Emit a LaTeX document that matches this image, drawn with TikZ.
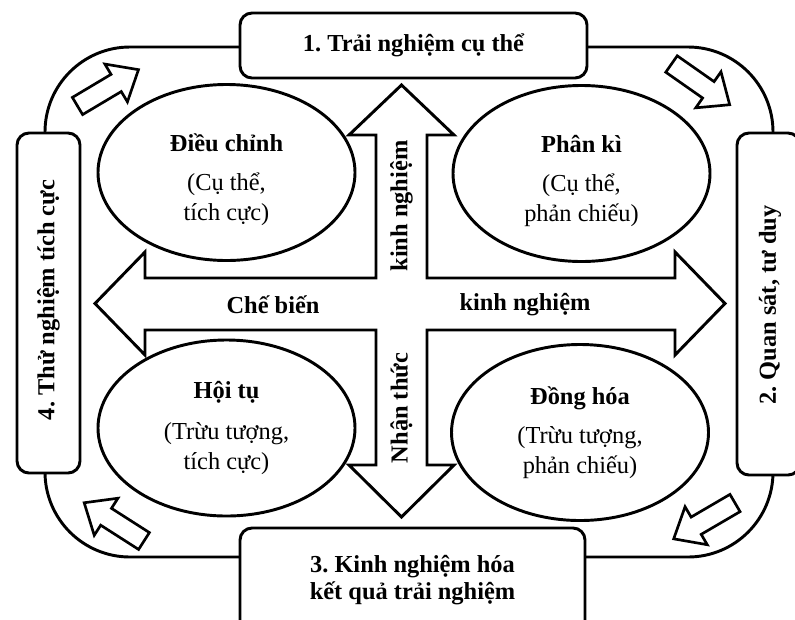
\documentclass[tikz,border=0pt]{standalone}
\usepackage{fontspec}
\setmainfont{Liberation Serif}
\usetikzlibrary{shapes.geometric}
\frenchspacing
\begin{document}
\begin{tikzpicture}[x=0.75pt,y=-0.75pt,
  line width=2.2pt, line join=miter,
  txt/.style={font=\fontsize{18.3}{22.5}\selectfont, align=center, inner sep=0pt},
  btxt/.style={txt, font=\fontsize{18.3}{20.5}\selectfont\bfseries},
  box/.style={draw, fill=white, rounded corners=9pt, btxt},
  ell/.style={draw, fill=white, ellipse, inner sep=0pt, txt,
              minimum width=192.75pt, minimum height=132pt},
  hollowarrow/.pic={\draw[fill=white, line width=2pt]
     (0,-10) -- (45,-10) -- (45,-22) -- (71,0) -- (45,22) -- (45,10) -- (0,10) -- cycle;}
]
\useasboundingbox (0,0) rectangle (795,619);

% outer loop
\draw[rounded corners=63.75pt] (45,47) rectangle (773,557);

% stage boxes
\node[box, minimum width=260.25pt, minimum height=48.75pt] (b1) at (413.5,45.5) {1. Trải nghiệm cụ thể};
\node[box, minimum width=47.25pt, minimum height=255pt] (b4) at (48.5,303) {};
\node[btxt, rotate=90] (t4) at (48.5,300) {4. Thử nghiệm tích cực};
\node[box, minimum width=47.25pt, minimum height=256.5pt] (b2) at (768.5,304) {};
\node[btxt, rotate=90] (t2) at (770,305) {2. Quan sát, tư duy};
\node[box, minimum width=258.75pt, minimum height=78pt] (b3) at (412.5,580) {3. Kinh nghiệm hóa\\kết quả trải nghiệm};

% central cross of arrows
\draw[fill=white] (401.5,85) -- (454,135) -- (427,135) -- (427,278) -- (675,278) -- (675,252)
  -- (725,303.5) -- (675,355) -- (675,330) -- (427,330) -- (427,465) -- (454,465)
  -- (401.5,517) -- (349,465) -- (376,465) -- (376,330) -- (145,330) -- (145,355)
  -- (95,303.5) -- (145,252) -- (145,278) -- (376,278) -- (376,135) -- (349,135) -- cycle;
\node[btxt] (cb) at (273,305) {Chế biến};
\node[btxt] (kn) at (525,305) {kinh nghiệm};
\node[btxt, rotate=90] (knv) at (401.5,206) {kinh nghiệm};
\node[btxt, rotate=90] (nt) at (401.5,408) {Nhận thức};

% learning styles
\node[ell] (e1) at (226.5,172.5) {\rule{0pt}{24pt}\textbf{Điều chỉnh}\\[7pt](Cụ thể,\\tích cực)};
\node[ell] (e2) at (581.5,173.5) {\rule{0pt}{24pt}\textbf{Phân kì}\\[7pt](Cụ thể,\\phản chiếu)};
\node[ell] (e3) at (226.5,428) {\textbf{Hội tụ}\\[8pt](Trừu tượng,\\tích cực)};
\node[ell] (e4) at (580,432.5) {\textbf{Đồng hóa}\\[7pt](Trừu tượng,\\phản chiếu)};

% corner arrows
\pic[rotate=30.8] at (77.5,106) {hollowarrow};
\pic[rotate=-35] at (671.5,64) {hollowarrow};
\pic[rotate=-149.7] at (735,503) {hollowarrow};
\pic[rotate=147.4] at (144,541) {hollowarrow};
\end{tikzpicture}
\end{document}
